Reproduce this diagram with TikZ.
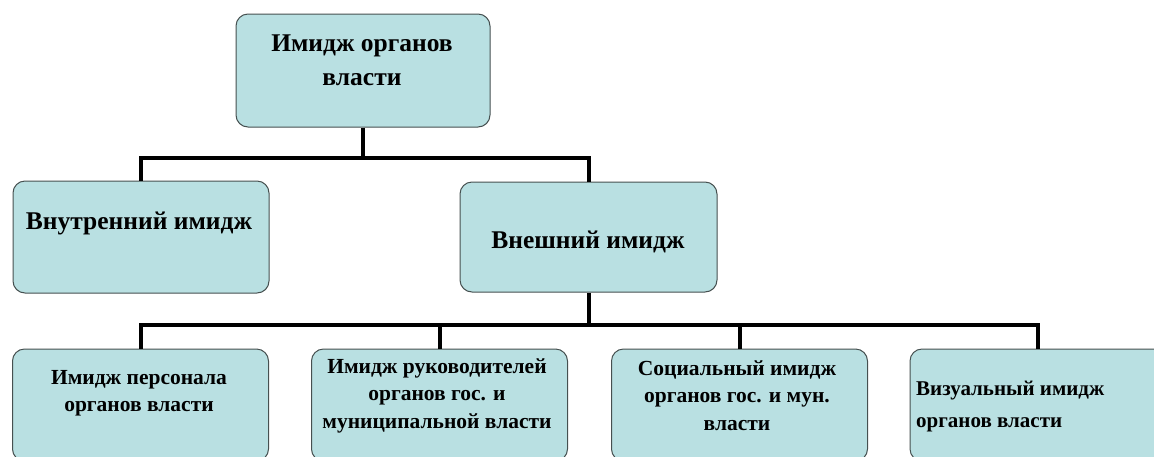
\documentclass[tikz,border=0pt]{standalone}
\usepackage{fontspec}
\setmainfont{Liberation Serif}
\usetikzlibrary{calc}
\definecolor{boxfill}{RGB}{185,224,226}
\definecolor{boxline}{RGB}{70,80,80}
\tikzset{
  orgbox/.style={draw=boxline, line width=1pt, fill=boxfill, rounded corners=12pt, minimum width=256pt, minimum height=112pt, inner sep=0pt},
  bigtxt/.style={font=\fontsize{25.5}{34}\selectfont\bfseries, align=center, inner sep=0pt},
  smalltxt/.style={font=\fontsize{21.5}{27.5}\selectfont\bfseries, align=center, inner sep=0pt},
  conn/.style={line width=4pt, black}
}
\begin{document}
\begin{tikzpicture}[x=1pt,y=-1pt]
\useasboundingbox (0,0) rectangle (1154,456);
\clip (0,0) rectangle (1154,456);
% boxes
\node[orgbox, minimum width=254pt, minimum height=113pt] (top) at (363,70.5) {};
\node[orgbox] (inner) at (141,237) {};
\node[orgbox, minimum width=257pt, minimum height=110pt] (outer) at (588.5,237) {};
\node[orgbox] (b1) at (140.5,405) {};
\node[orgbox] (b2) at (439.5,405) {};
\node[orgbox] (b3) at (739.5,405) {};
\node[orgbox] (b4) at (1038,405) {};
% texts
\node[bigtxt] (ttop) at (362,60) {Имидж органов\\власти};
\node[bigtxt] (tinner) at (139,223) {Внутренний имидж};
\node[bigtxt] (touter) at (588,242) {Внешний имидж};
\node[smalltxt] (tb1) at (139,393) {Имидж персонала\\органов власти};
\node[smalltxt] (tb2) at (437,395.5) {Имидж руководителей\\органов гос. и\\муниципальной власти};
\node[smalltxt] (tb3) at (737,395.5) {Социальный имидж\\органов гос. и мун.\\власти};
\node[smalltxt, align=left, anchor=west, font=\fontsize{21}{32}\selectfont\bfseries] (tb4) at (916,406) {Визуальный  имидж\\органов власти};
% connectors
\coordinate (j1) at (363,158);
\coordinate (j2) at (588.5,325);
\draw[conn] (top.south) -- (j1);
\draw[conn] (inner.north) |- (j1) -| (outer.north);
\draw[conn] (outer.south) -- (j2);
\draw[conn] (b1.north) |- (j2) -| (b4.north);
\draw[conn] (b2.north) -- (b2.north |- j2);
\draw[conn] (b3.north) -- (b3.north |- j2);
\end{tikzpicture}
\end{document}
